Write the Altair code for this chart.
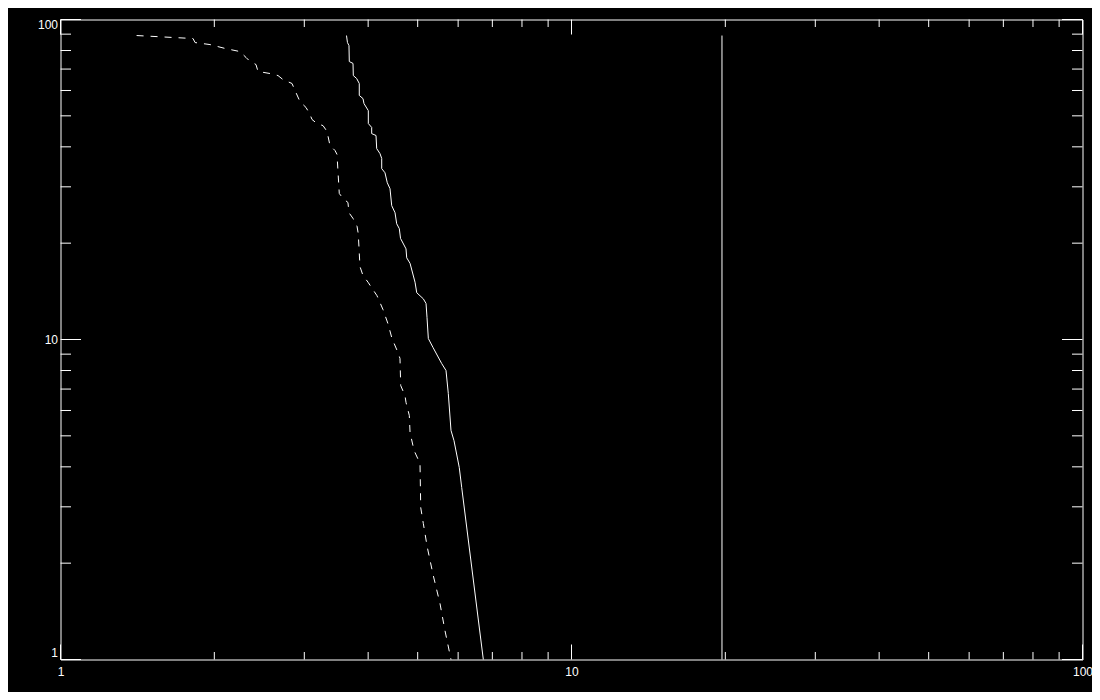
import altair as alt
import pandas as pd

# Solid curve
solid_x = [3.628, 3.644, 3.669, 3.674, 3.736, 3.741, 3.798, 3.843, 3.843, 3.908,
           3.926, 4.003, 4.003, 4.064, 4.064, 4.144, 4.157, 4.219, 4.252, 4.252,
           4.315, 4.360, 4.414, 4.448, 4.515, 4.549, 4.603, 4.628, 4.744, 4.759,
           4.831, 4.941, 4.979, 5.129, 5.192, 5.215, 5.246, 5.358, 5.572, 5.681,
           5.740, 5.810, 5.889, 6.031, 6.097, 6.721]
solid_y = [89.1, 84.7, 82.9, 73.9, 72.9, 66.8, 65.4, 63.1, 57.9, 56.6,
           54.6, 51.9, 47.3, 46.0, 44.0, 43.4, 39.5, 38.1, 36.8, 34.2,
           33.2, 30.9, 29.6, 26.2, 24.9, 23.0, 22.2, 20.7, 19.2, 18.0,
           17.3, 15.1, 14.0, 13.4, 12.96, 11.7, 10.07, 9.44, 8.41, 8.00,
           6.78, 5.20, 4.83, 3.98, 3.45, 1.0]

# Dashed curve
dashed_x = [1.409, 1.817, 1.834, 1.961, 2.099, 2.245, 2.307, 2.338, 2.413, 2.435,
            2.570, 2.665, 2.725, 2.838, 2.877, 2.942, 3.023, 3.078, 3.106, 3.177,
            3.264, 3.323, 3.368, 3.445, 3.476, 3.512, 3.571, 3.652, 3.669, 3.736,
            3.804, 3.826, 3.855, 3.908, 3.998, 4.163, 4.277, 4.374, 4.454, 4.576,
            4.617, 4.632, 4.722, 4.744, 4.815, 4.831, 4.919, 5.053, 5.069, 5.129,
            5.222, 5.364, 5.529, 5.654, 5.810]
dashed_y = [89.1, 87.2, 84.7, 83.5, 81.2, 79.4, 76.1, 74.5, 72.3, 68.8,
            67.8, 66.8, 64.9, 63.1, 60.0, 55.4, 53.1, 50.5, 48.7, 47.3,
            46.6, 44.7, 40.4, 38.96, 37.9, 28.6, 27.6, 26.8, 24.9, 23.9,
            22.6, 21.4, 16.9, 15.85, 15.1, 13.7, 12.4, 11.2, 10.07, 9.10,
            8.72, 7.18, 6.68, 6.36, 5.79, 5.12, 4.50, 4.10, 2.985, 2.66,
            2.24, 1.83, 1.496, 1.232, 1.0]

# Vertical reference line
vline_x = [19.7]
vline_y = [1.0, 89.1]

# Axis tick values
major_ticks = [1, 10, 100]
minor_ticks = [2, 3, 4, 5, 6, 7, 8, 9, 20, 30, 40, 50, 60, 70, 80, 90]
label_values = [1, 10, 100]

W, H = 1022, 640
FONT = "Liberation Sans"

xs = alt.Scale(type="log", domain=[1, 100], nice=False)
ys = alt.Scale(type="log", domain=[1, 100], nice=False)

df_solid = pd.DataFrame({"x": solid_x, "y": solid_y, "i": range(len(solid_x))})
df_dashed = pd.DataFrame({"x": dashed_x, "y": dashed_y, "i": range(len(dashed_x))})
df_vline = pd.DataFrame({"x": vline_x, "y": [vline_y[0]], "y2": [vline_y[1]]})

x_axis = alt.Axis(values=label_values, format="d", ticks=False, tickSize=0, domain=False,
                  grid=False, labelColor="#ffffff", labelFont=FONT, labelFontSize=12,
                  labelPadding=7, labelFlush=False, title=None)
y_axis = alt.Axis(values=label_values, format="d", ticks=False, tickSize=0, domain=False,
                  grid=False, labelColor="#ffffff", labelFont=FONT, labelFontSize=12,
                  labelPadding=3, labelFlush=True, title=None)

solid = alt.Chart(df_solid).mark_line(color="white", strokeWidth=1).encode(
    x=alt.X("x:Q", scale=xs, axis=x_axis),
    y=alt.Y("y:Q", scale=ys, axis=y_axis),
    order="i:Q",
)

dashed = alt.Chart(df_dashed).mark_line(color="white", strokeWidth=1, strokeDash=[7, 7]).encode(
    x=alt.X("x:Q", scale=xs, axis=x_axis),
    y=alt.Y("y:Q", scale=ys, axis=y_axis),
    order="i:Q",
)

vline = alt.Chart(df_vline).mark_rule(color="white", strokeWidth=1).encode(
    x=alt.X("x:Q", scale=xs, axis=x_axis),
    y=alt.Y("y:Q", scale=ys, axis=y_axis),
    y2="y2:Q",
)


def xticks(values, length):
    d = pd.DataFrame({"x": values})
    bottom = alt.Chart(d).mark_rule(color="white", strokeWidth=1).encode(
        x=alt.X("x:Q", scale=xs, axis=x_axis), y=alt.value(H), y2=alt.value(H - length))
    top = alt.Chart(d).mark_rule(color="white", strokeWidth=1).encode(
        x=alt.X("x:Q", scale=xs, axis=x_axis), y=alt.value(0), y2=alt.value(length))
    return [bottom, top]


def yticks(values, length):
    d = pd.DataFrame({"y": values})
    left = alt.Chart(d).mark_rule(color="white", strokeWidth=1).encode(
        y=alt.Y("y:Q", scale=ys, axis=y_axis), x=alt.value(0), x2=alt.value(length))
    right = alt.Chart(d).mark_rule(color="white", strokeWidth=1).encode(
        y=alt.Y("y:Q", scale=ys, axis=y_axis), x=alt.value(W), x2=alt.value(W - length))
    return [left, right]


layers = [solid, dashed, vline]
layers += xticks(major_ticks, 15)
layers += xticks(minor_ticks, 7.5)
layers += yticks(major_ticks, 20.5)
layers += yticks(minor_ticks, 10.5)

chart = alt.layer(*layers).properties(
    width=W,
    height=H,
    background="black",
    autosize=alt.AutoSizeParams(type="none"),
    padding={"left": 52.5, "top": 11.5, "right": 9.5, "bottom": 32.5},
).configure_view(stroke="white", strokeWidth=1)

chart.save("out.html", embed_options={"renderer": "svg", "actions": False})
